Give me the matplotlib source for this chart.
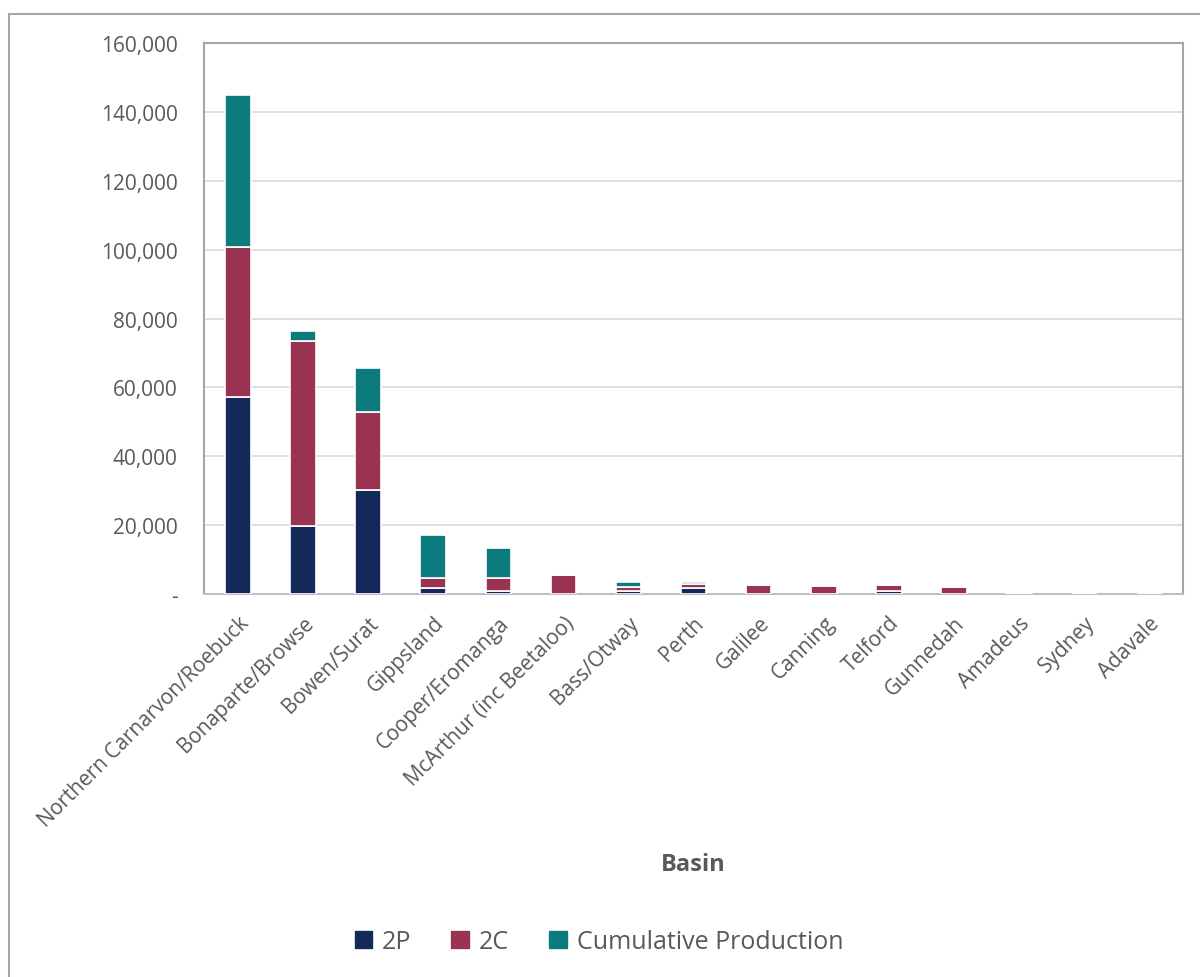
import matplotlib.pyplot as plt
import matplotlib.patches as mpatches
from matplotlib.ticker import FuncFormatter
import numpy as np

plt.rcParams['font.family'] = ['Open Sans', 'DejaVu Sans']

basins = ['Northern Carnarvon/Roebuck', 'Bonaparte/Browse', 'Bowen/Surat', 'Gippsland',
          'Cooper/Eromanga', 'McArthur (inc Beetaloo)', 'Bass/Otway', 'Perth', 'Galilee',
          'Canning', 'Telford', 'Gunnedah', 'Amadeus', 'Sydney', 'Adavale']
reserves_2p = [57300, 19700, 30200, 1800, 1000, 0, 1000, 1800, 0, 0, 900, 0, 50, 0, 0]
resources_2c = [43600, 53800, 22600, 2900, 3700, 5500, 900, 1100, 2700, 2400, 1600, 2000, 100, 100, 50]
cumulative = [44100, 2900, 12800, 12400, 8700, 0, 1700, 700, 0, 0, 100, 0, 0, 0, 0]

c_2p = '#14295A'
c_2c = '#9A3352'
c_cp = '#0B7B7E'
grey_txt = '#595959'

fig = plt.figure(figsize=(12, 9.78), dpi=100)
ax = fig.add_axes([0.17, 0.3916, 0.816, 0.5634])

x = np.arange(len(basins))
p2 = np.array(reserves_2p)
c2 = np.array(resources_2c)
cp = np.array(cumulative)
w = 0.39
ax.bar(x, p2, w, color=c_2p, edgecolor='white', linewidth=1.2, label='2P', zorder=3)
ax.bar(x, c2, w, bottom=p2, color=c_2c, edgecolor='white', linewidth=1.2, label='2C', zorder=3)
ax.bar(x, cp, w, bottom=p2 + c2, color=c_cp, edgecolor='white', linewidth=1.2,
       label='Cumulative Production', zorder=3)

ax.set_xlim(-0.52, 14.52)
ax.set_ylim(0, 160000)
ax.set_yticks(np.arange(0, 160001, 20000))
ax.yaxis.set_major_formatter(FuncFormatter(lambda v, p: '-' if v == 0 else f'{v:,.0f}'))
ax.grid(axis='y', color='#D9D9D9', linewidth=1.2, zorder=0)
ax.tick_params(axis='y', length=0, labelsize=15, labelcolor=grey_txt, pad=19)
ax.tick_params(axis='x', length=0, labelsize=15, labelcolor=grey_txt, pad=13)
ax.set_xticks(x)
ax.set_xticklabels(basins, rotation=45, ha='right', rotation_mode='anchor')
for s in ax.spines.values():
    s.set_color('#A6A6A6')
    s.set_linewidth(1.5)
ax.spines['bottom'].set_color('#BFBFBF')

fig.text(0.578, 0.116, 'Basin', ha='center', va='center', fontsize=17,
         fontweight='bold', color=grey_txt)

handles = [mpatches.Patch(color=c_2p, label='2P'),
           mpatches.Patch(color=c_2c, label='2C'),
           mpatches.Patch(color=c_cp, label='Cumulative Production')]
fig.legend(handles=handles, loc='center', bbox_to_anchor=(0.499, 0.036), ncol=3,
           frameon=False, fontsize=18, labelcolor=grey_txt, handlelength=0.7,
           handleheight=0.7, handletextpad=0.4, columnspacing=1.6)

# outer chart border (left and top edges visible)
fig.add_artist(plt.Line2D([0.0075, 0.0075], [0, 0.985], transform=fig.transFigure,
                          color='#A6A6A6', linewidth=1.5))
fig.add_artist(plt.Line2D([0.0075, 1.0], [0.985, 0.985], transform=fig.transFigure,
                          color='#A6A6A6', linewidth=1.5))

fig.savefig('out.png', dpi=100)
